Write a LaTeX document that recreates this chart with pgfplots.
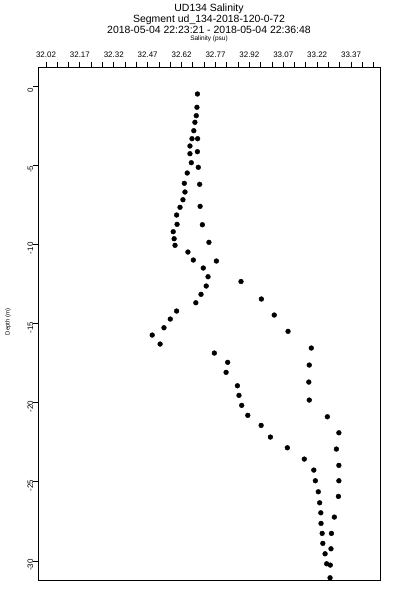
\documentclass[border=0pt]{standalone}
\usepackage{pgfplots}
\pgfplotsset{compat=1.18}
\usepackage{fontspec}
\setmainfont{Liberation Sans}
\begin{document}
\begin{tikzpicture}[x=1bp,y=1bp]
\useasboundingbox (0,0) rectangle (400,600);
\begin{axis}[
  at={(38.3bp,20bp)}, anchor=south west,
  width=341.7bp, height=513bp, scale only axis,
  xmin=31.986, xmax=33.498, ymin=-31.2, ymax=1.2,
  clip=false,
  axis line style={line width=0.8bp},
  every tick/.style={line width=0.8bp, black},
  tick align=outside,
  major tick length=5bp,
  xtick pos=right, xticklabel pos=right,
  ytick pos=left,
  xtick={32.02,32.07,32.12,32.17,32.22,32.27,32.32,32.37,32.42,32.47,32.52,32.57,32.62,32.67,32.72,32.77,32.82,32.87,32.92,32.97,33.02,33.07,33.12,33.17,33.22,33.27,33.32,33.37,33.42,33.47},
  xticklabels={32.02,,,32.17,,,32.32,,,32.47,,,32.62,,,32.77,,,32.92,,,33.07,,,33.22,,,33.37,,},
  ytick={-30,-25,-20,-15,-10,-5,0},
  yticklabels={-30,-25,-20,-15,-10,-5,0},
  xticklabel style={font=\fontsize{8}{9}\selectfont, inner sep=0pt, anchor=south, yshift=4bp},
  yticklabel style={font=\fontsize{8}{9}\selectfont, rotate=90, inner sep=0pt, anchor=south, xshift=-4bp},
]
\addplot[only marks, mark=*, mark size=2.4bp, mark options={fill=black, draw=black}] coordinates {
(32.690,-0.505) (32.688,-1.346) (32.685,-1.876) (32.679,-2.293) (32.674,-2.824)
(32.666,-3.329) (32.657,-3.790) (32.657,-4.277) (32.663,-4.845) (32.645,-5.496)
(32.632,-6.147) (32.635,-6.696) (32.626,-7.183) (32.613,-7.663) (32.598,-8.149)
(32.600,-8.737) (32.583,-9.204) (32.587,-9.646) (32.591,-10.063) (32.648,-10.487)
(32.672,-10.992) (32.716,-11.497) (32.737,-12.047) (32.729,-12.634) (32.706,-13.159)
(32.683,-13.689) (32.598,-14.214) (32.570,-14.719) (32.542,-15.269) (32.490,-15.730)
(32.525,-16.298) (32.765,-16.867) (32.824,-17.454) (32.817,-18.086) (32.867,-18.932)
(32.874,-19.539) (32.886,-20.171) (32.913,-20.802) (32.972,-21.434) (33.013,-22.173)
(33.088,-22.849) (33.163,-23.563) (33.205,-24.258) (33.212,-24.934) (33.225,-25.629)
(33.231,-26.323) (33.236,-26.955) (33.237,-27.625) (33.242,-28.256) (33.245,-28.888)
(33.255,-29.545) (33.262,-30.177) (33.277,-31.061)
};
\addplot[only marks, mark=*, mark size=2.4bp, mark options={fill=black, draw=black}] coordinates {
(32.691,-3.329) (32.690,-4.150) (32.694,-5.136) (32.700,-6.210) (32.702,-7.600)
(32.712,-8.762) (32.741,-9.874) (32.774,-11.055) (32.883,-12.350) (32.973,-13.455)
(33.030,-14.466) (33.091,-15.496) (33.194,-16.551) (33.185,-17.625) (33.183,-18.699)
(33.185,-19.836) (33.265,-20.891) (33.316,-21.901) (33.305,-22.931) (33.316,-23.961)
(33.316,-24.934) (33.314,-25.919) (33.296,-27.227) (33.283,-28.256) (33.281,-29.229)
(33.278,-30.259)
};
\end{axis}
\node[font=\fontsize{10.5}{12}\selectfont, inner sep=0pt] at (209,591) {UD134 Salinity};
\node[font=\fontsize{10.5}{12}\selectfont, inner sep=0pt] at (209,580.5) {Segment ud\_134-2018-120-0-72};
\node[font=\fontsize{10.5}{12}\selectfont, inner sep=0pt] at (209,570) {2018-05-04 22:23:21 - 2018-05-04 22:36:48};
\node[font=\fontsize{6.5}{7}\selectfont, inner sep=0pt] at (209,561) {Salinity (psu)};
\node[font=\fontsize{6}{7}\selectfont, inner sep=0pt, rotate=90] at (8,278) {Depth (m)};
\end{tikzpicture}
\end{document}
